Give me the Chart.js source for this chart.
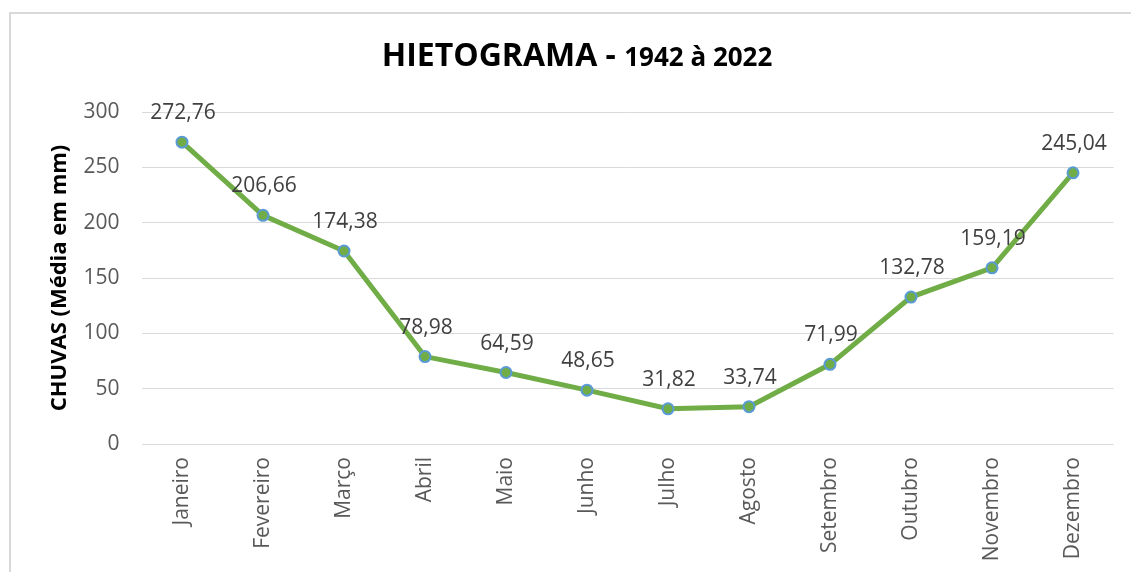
<!DOCTYPE html>
<html lang="pt">
<head>
<meta charset="utf-8">
<title>Hietograma 1942 à 2022</title>
<script src="https://cdn.jsdelivr.net/npm/chart.js@4/dist/chart.umd.min.js"></script>
<style>
  html, body { margin: 0; padding: 0; background: #fff; }
  canvas { display: block; }
</style>
</head>
<body>
<canvas id="hietograma" width="1131" height="572"></canvas>
<script>
// ── Dados ─────────────────────────────────────────────────────────
const MESES = ['Janeiro', 'Fevereiro', 'Março', 'Abril', 'Maio', 'Junho',
               'Julho', 'Agosto', 'Setembro', 'Outubro', 'Novembro', 'Dezembro'];
const CHUVAS = [272.76, 206.66, 174.38, 78.98, 64.59, 48.65,
                31.82, 33.74, 71.99, 132.78, 159.19, 245.04];
const Y_TICKS = [0, 50, 100, 150, 200, 250, 300];

const TITULO = 'HIETOGRAMA - ';
const SUBTITULO = '1942 à 2022';
const EIXO_Y = 'CHUVAS (Média em mm)';

const FONT = "'Open Sans', 'Liberation Sans', sans-serif";
const VERDE = '#70ad47';
const AZUL = '#5b9bd5';

// frame (only top + left edge visible in the crop)
const framePlugin = {
  id: 'frame',
  beforeDraw(chart) {
    const { ctx } = chart;
    ctx.save();
    ctx.strokeStyle = '#d9d9d9';
    ctx.lineWidth = 2;
    ctx.beginPath();
    ctx.moveTo(10, chart.height);
    ctx.lineTo(10, 13);
    ctx.lineTo(chart.width, 13);
    ctx.stroke();
    ctx.restore();
  }
};

// title with two font sizes
const titlePlugin = {
  id: 'titulo',
  afterDraw(chart) {
    const { ctx } = chart;
    ctx.save();
    ctx.fillStyle = '#000';
    ctx.textBaseline = 'alphabetic';
    const f1 = `bold 32px ${FONT}`;
    const f2 = `bold 26px ${FONT}`;
    ctx.font = f1;
    const w1 = ctx.measureText(TITULO).width;
    ctx.font = f2;
    const w2 = ctx.measureText(SUBTITULO).width;
    const x0 = 577 - (w1 + w2) / 2;
    ctx.font = f1;
    ctx.fillText(TITULO, x0, 66);
    ctx.font = f2;
    ctx.fillText(SUBTITULO, x0 + w1, 66);
    ctx.restore();
  }
};

// value labels above each point
const labelsPlugin = {
  id: 'rotulos',
  afterDatasetsDraw(chart) {
    const { ctx } = chart;
    const meta = chart.getDatasetMeta(0);
    ctx.save();
    ctx.font = `21px ${FONT}`;
    ctx.fillStyle = '#404040';
    ctx.textAlign = 'center';
    ctx.textBaseline = 'alphabetic';
    meta.data.forEach((pt, i) => {
      const txt = CHUVAS[i].toFixed(2).replace('.', ',');
      ctx.fillText(txt, pt.x + 1, pt.y - 23);
    });
    ctx.restore();
  }
};

new Chart(document.getElementById('hietograma'), {
  type: 'line',
  data: {
    labels: MESES,
    datasets: [{
      data: CHUVAS,
      borderColor: VERDE,
      borderWidth: 5,
      pointRadius: 5.5,
      pointBackgroundColor: VERDE,
      pointBorderColor: AZUL,
      pointBorderWidth: 2,
      tension: 0,
    }],
  },
  options: {
    responsive: false,
    animation: false,
    events: [],
    layout: { padding: { left: 43, right: 17.5, top: 112, bottom: 0 } },
    plugins: {
      legend: { display: false },
      tooltip: { enabled: false },
    },
    scales: {
      x: {
        offset: true,
        grid: { display: false, drawTicks: false },
        border: { display: false },
        ticks: {
          color: '#595959',
          font: { family: FONT, size: 21 },
          minRotation: 90,
          maxRotation: 90,
          padding: 13,
          autoSkip: false,
        },
        afterFit(scale) { scale.height = 572 - 444; },
      },
      y: {
        min: 0,
        max: 300,
        afterBuildTicks(scale) { scale.ticks = Y_TICKS.map(v => ({ value: v })); },
        grid: { color: '#d9d9d9', lineWidth: 1, drawTicks: false },
        border: { display: false },
        ticks: {
          color: '#595959',
          font: { family: FONT, size: 21 },
          padding: 22,
        },
        title: {
          display: true,
          text: EIXO_Y,
          color: '#000',
          font: { family: FONT, size: 22, weight: 'bold' },
        },
        afterFit(scale) { scale.width = 141.5 - 43; },
      },
    },
  },
  plugins: [framePlugin, titlePlugin, labelsPlugin],
});
</script>
</body>
</html>
